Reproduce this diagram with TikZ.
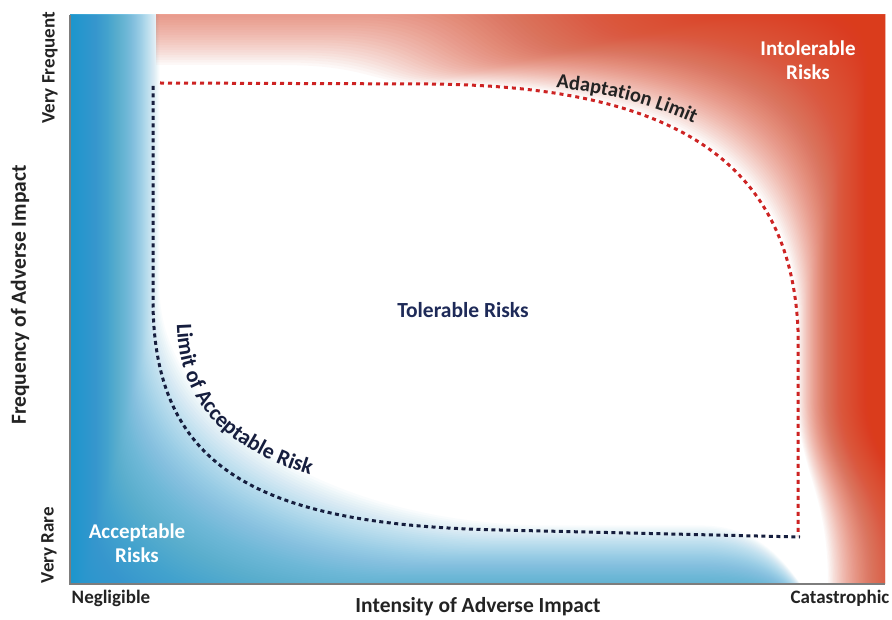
\documentclass[tikz,border=0pt]{standalone}
\usepackage{fontspec}
\setmainfont{Carlito}
\usetikzlibrary{decorations.text}

\definecolor{acceptblue}{RGB}{25,150,205}
\definecolor{intolred}{RGB}{218,60,28}
\definecolor{axisgrey}{RGB}{125,125,125}
\definecolor{labelgrey}{RGB}{35,35,35}
\definecolor{navytext}{RGB}{30,42,88}
\definecolor{limitnavy}{RGB}{22,30,62}
\definecolor{limitred}{RGB}{205,35,35}

\tikzset{
  bluelayer/.style={fill=acceptblue, fill opacity=0.025, even odd rule},
  redlayer/.style={fill=intolred, fill opacity=0.03, even odd rule},
  adaptline/.style={draw=limitred, line width=3pt, dash pattern=on 4pt off 4pt},
  acceptline/.style={draw=limitnavy, line width=3pt, dash pattern=on 4pt off 3.5pt},
  axislabel/.style={font=\fontsize{21.5}{21.5}\selectfont\bfseries, text=labelgrey, inner sep=0pt},
  ticklabel/.style={font=\fontsize{19}{19}\selectfont\bfseries, text=labelgrey, inner sep=0pt},
  zonelabel/.style={font=\fontsize{21}{24}\selectfont\bfseries, text=white, align=center, inner sep=0pt},
}

\begin{document}
\begin{tikzpicture}[x=1pt,y=-1pt]
\useasboundingbox (0,0) rectangle (892,620);

% plotting field
\begin{scope}
  \clip (70,15) rectangle (885,583);
  \fill[white] (70,15) rectangle (885,583);

  % blue zone along the left and bottom edges, built from stacked translucent layers
  \foreach \k in {1,...,106} {
    \pgfmathsetmacro\fr{\k/100}
    \pgfmathsetmacro\blx{62+92*\fr}
    \pgfmathsetmacro\bly{677-143*\fr}
    \pgfmathsetmacro\brx{30+340*\fr}
    \pgfmathsetmacro\bry{20+205*\fr}
    \fill[bluelayer] (60,0) rectangle (900,600)
      ({\blx},-500) -- ({\blx},{\bly-\bry})
      .. controls ({\blx},{\bly-0.45*\bry}) and ({\blx+0.45*\brx},{\bly}) .. ({\blx+\brx},{\bly})
      -- (700,{\bly}) .. controls (785,{\bly}) and (805,600) .. (850,660)
      -- (1500,660) -- (1500,-500) -- cycle;
  }

  % red zone: pale along the top edge, deep in the top-right corner and down the right edge
  \begin{scope}
    \clip (156,15) rectangle (885,583);
    \foreach \k in {1,...,100} {
      \pgfmathsetmacro\fr{\k/100}
      \pgfmathsetmacro\rxr{885-87*\fr}
      \pgfmathsetmacro\rry{20+226*\fr}
      \pgfmathsetmacro\ytr{100*\fr-16}
      \pgfmathsetmacro\rrx{20+348*\fr}
      \pgfmathsetmacro\xc{\rxr-\rrx}
      \pgfmathsetmacro\ytl{250*\fr-185}
      \pgfmathsetmacro\xrb{958-130*\fr}
      \fill[redlayer] (60,0) rectangle (900,600)
        (-500,{\ytl}) -- ({\xc-150},{\ytl})
        .. controls ({\xc-60},{\ytl}) and ({\xc-60},{\ytr}) .. ({\xc},{\ytr})
        .. controls ({\rxr-0.43*\rrx},{\ytr}) and ({\rxr},{\ytr+0.23*\rry}) .. ({\rxr},{\ytr+\rry})
        -- ({\rxr},400) .. controls ({\rxr},470) and ({\xrb},490) .. ({\xrb},583)
        -- ({\xrb},1000) -- (-500,1000) -- cycle;
    }
  \end{scope}
\end{scope}

% axes
\coordinate (axisTop) at (70,15);
\coordinate (origin) at (70,584);
\coordinate (axisRight) at (885,584);
\draw[axisgrey, line width=1.8pt] (axisTop) -- (origin) -- (axisRight);

% limit curves
\coordinate (adaptStart) at (160,83);
\coordinate (adaptBend) at (430,84);
\coordinate (adaptDown) at (798,330);
\coordinate (adaptEnd) at (798,536);
\draw[adaptline] (adaptStart) -- (adaptBend) .. controls (640,86) and (790,140) .. (adaptDown) -- (adaptEnd);

\coordinate (accStart) at (153,86);
\coordinate (accBend) at (153,300);
\coordinate (accFlat) at (500,530);
\coordinate (accEnd) at (800,537);
\draw[acceptline] (accStart) -- (accBend) .. controls (153,470) and (260,525) .. (accFlat) -- (accEnd);

% curve labels
\path[decorate, decoration={text along path, text color=limitnavy,
    text={|\fontsize{22}{22}\selectfont\bfseries|Limit of Acceptable Risk}}]
  (177,324) .. controls (180,440) and (275,490) .. (500,505);
\path[decorate, decoration={text along path, text color=labelgrey,
    text={|\fontsize{20.5}{20.5}\selectfont\bfseries|Adaptation Limit}}]
  (556,88) .. controls (612,93) and (668,107) .. (735,144);

% zone labels
\node[zonelabel] (intolerable) at (808,60) {Intolerable\\Risks};
\node[zonelabel] (acceptable) at (137,543) {Acceptable\\Risks};
\node[font=\fontsize{21.5}{21.5}\selectfont\bfseries, text=navytext, inner sep=0pt] (tolerable) at (463,310) {Tolerable Risks};

% axis labels
\node[axislabel, rotate=90] (freqTitle) at (20,295) {Frequency of Adverse Impact};
\node[axislabel] (intTitle) at (478,607) {Intensity of Adverse Impact};
\node[ticklabel, rotate=90] (veryFrequent) at (50,68) {Very Frequent};
\node[ticklabel, rotate=90] (veryRare) at (49,545) {Very Rare};
\node[ticklabel] (negligible) at (111,598) {Negligible};
\node[ticklabel] (catastrophic) at (840,598) {Catastrophic};
\end{tikzpicture}
\end{document}
